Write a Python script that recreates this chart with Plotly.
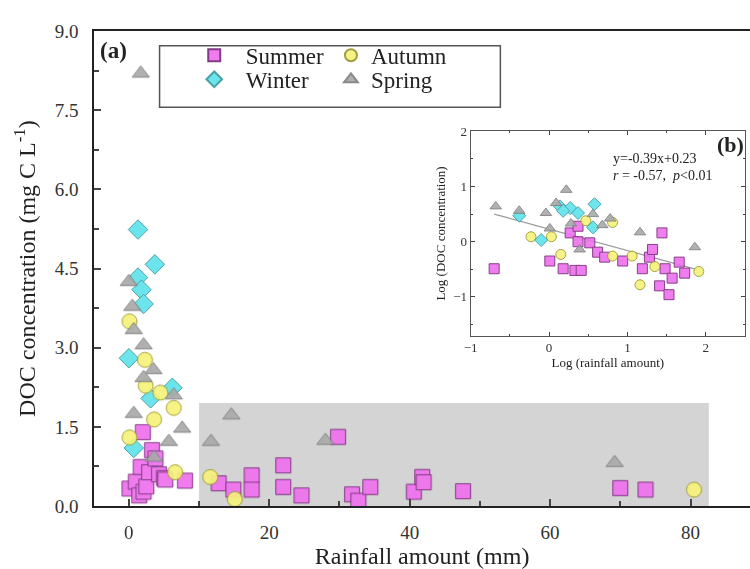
import plotly.graph_objects as go

# ---------------- main panel (a) data ----------------
summer_x = [0.1, 1.0, 1.5, 1.7, 2.0, 2.1, 2.5, 2.9, 3.3, 3.8, 4.3, 5.0, 5.2, 8.0,
            12.8, 14.9, 17.5, 17.5, 22.0, 22.0, 24.6, 29.8, 31.8, 32.7, 34.4,
            40.6, 41.8, 42.0, 47.6, 70.0, 73.6]
summer_y = [0.33, 0.46, 0.20, 0.74, 1.40, 0.27, 0.37, 0.64, 1.06, 0.90, 0.60, 0.53, 0.50, 0.48,
            0.43, 0.31, 0.58, 0.31, 0.77, 0.36, 0.20, 1.31, 0.22, 0.10, 0.36,
            0.27, 0.55, 0.45, 0.28, 0.34, 0.31]

autumn_x = [0.1, 2.3, 2.4, 4.5, 6.4, 3.6, 0.1, 6.6, 11.6, 15.1, 80.5]
autumn_y = [3.50, 2.77, 2.28, 2.15, 1.86, 1.64, 1.30, 0.64, 0.55, 0.13, 0.31]

winter_x = [1.3, 3.7, 1.3, 1.8, 2.1, 0.0, 6.2, 3.1, 0.7]
winter_y = [5.24, 4.58, 4.33, 4.10, 3.83, 2.80, 2.24, 2.04, 1.10]

spring_x = [1.7, 0.0, 0.5, 0.7, 2.1, 3.5, 2.1, 6.4, 0.7, 7.6, 5.7, 3.6, 11.7, 14.6, 28.0, 69.2]
spring_y = [8.20, 4.25, 3.78, 3.34, 3.05, 2.58, 2.43, 2.10, 1.75, 1.47, 1.22, 0.92, 1.22, 1.72, 1.24, 0.82]

# ---------------- inset panel (b) data ----------------
b_summer_x = [-0.70, 0.27, 0.37, 0.52, 0.62, 0.71, 0.94, 0.01, 0.18, 0.33, 0.41, 1.28, 1.32,
              1.44, 1.19, 1.48, 1.57, 1.66, 1.73, 1.41, 1.53, 0.37]
b_summer_y = [-0.49, 0.16, 0.00, -0.02, -0.19, -0.28, -0.35, -0.35, -0.49, -0.52, -0.52, -0.28, -0.14,
              0.16, -0.49, -0.49, -0.66, -0.37, -0.57, -0.80, -0.96, 0.28]

b_autumn_x = [-0.23, 0.03, 0.15, 0.81, 1.06, 1.35, 1.91, 1.16, 0.47, 0.81]
b_autumn_y = [0.09, 0.09, -0.23, -0.26, -0.26, -0.45, -0.54, -0.78, 0.38, 0.35]

b_winter_x = [0.14, 0.27, 0.58, -0.10, -0.38, 0.56, 0.37, 0.18]
b_winter_y = [0.64, 0.61, 0.68, 0.03, 0.47, 0.26, 0.52, 0.56]

b_spring_x = [-0.68, -0.38, -0.04, 0.22, 0.01, 1.16, 1.86, 0.28, 0.56, 0.78, 0.39, 0.68, 0.09]
b_spring_y = [0.64, 0.56, 0.52, 0.94, 0.24, 0.17, -0.10, 0.33, 0.50, 0.42, -0.14, 0.30, 0.70]

fit_x = [-0.7, 1.9]
fit_y = [0.50, -0.51]

# ---------------- styles ----------------
FONT = "Liberation Serif"
styles = {
    "Summer": dict(symbol="square", color="#ee70ee", line="#7a2a7a"),
    "Autumn": dict(symbol="circle", color="#f6f27a", line="#9a9830"),
    "Winter": dict(symbol="diamond", color="#5fe3ea", line="#3a9aa0"),
    "Spring": dict(symbol="triangle-up", color="#a9a9a9", line="#7f7f7f"),
}

fig = go.Figure()

# shaded area in main panel
fig.add_shape(type="rect", xref="x", yref="y", x0=10, x1=82.6, y0=0, y1=1.95,
              fillcolor="#d4d4d4", line_width=0, layer="below")

NB = "\u00a0\u00a0"
main_series = [("Summer", NB + "Summer", summer_x, summer_y, "legend", 15),
               ("Winter", NB + "Winter", winter_x, winter_y, "legend2", 15),
               ("Autumn", "Autumn", autumn_x, autumn_y, "legend3", 15),
               ("Spring", "Spring", spring_x, spring_y, "legend4", 15)]
for key, label, xs, ys, leg, sz in main_series:
    s = styles[key]
    fig.add_trace(go.Scatter(
        x=xs, y=ys, mode="markers", name=label, legend=leg,
        marker=dict(symbol=s["symbol"], size=sz, color=s["color"],
                    line=dict(color=s["line"], width=1)),
        opacity=0.92, xaxis="x", yaxis="y"))

# inset
fig.add_trace(go.Scatter(x=fit_x, y=fit_y, mode="lines", showlegend=False,
                         line=dict(color="#9a9a9a", width=1.2), xaxis="x2", yaxis="y2"))
inset_series = [("Summer", b_summer_x, b_summer_y),
                ("Autumn", b_autumn_x, b_autumn_y),
                ("Winter", b_winter_x, b_winter_y),
                ("Spring", b_spring_x, b_spring_y)]
for name, xs, ys in inset_series:
    s = styles[name]
    fig.add_trace(go.Scatter(
        x=xs, y=ys, mode="markers", showlegend=False,
        marker=dict(symbol=s["symbol"], size=10, color=s["color"],
                    line=dict(color=s["line"], width=1)),
        opacity=0.9, xaxis="x2", yaxis="y2"))

# legend frame
fig.add_shape(type="rect", xref="paper", yref="paper",
              x0=154/750, x1=498/750, y0=1-101/569, y1=1-37/569,
              line=dict(color="#555555", width=1.5), fillcolor="rgba(0,0,0,0)")

def leg(xpx, ypx):
    return dict(x=xpx/750, y=1-ypx/569, xanchor="left", yanchor="middle",
                bgcolor="rgba(0,0,0,0)", borderwidth=0, itemsizing="constant",
                font=dict(family=FONT, size=23, color="#222222"))

tickfont = dict(family=FONT, size=19, color="#333333")
fig.update_layout(
    width=750, height=569,
    margin=dict(l=0, r=0, t=0, b=0),
    paper_bgcolor="white", plot_bgcolor="white",
    font=dict(family=FONT, color="#222222"),
    xaxis=dict(domain=[88/750, 1.0], range=[-4.94, 88.47],
               tickvals=[0, 20, 40, 60, 80], ticks="inside", ticklen=7, tickwidth=1.5,
               minor=dict(tickvals=[10, 30, 50, 70], ticks="inside", ticklen=5, tickwidth=1.5),
               showline=True, linecolor="#222222", linewidth=2, mirror=True,
               showgrid=False, zeroline=False, tickfont=tickfont, ticklabelstandoff=8,
               title=dict(text="Rainfall amount (mm)", font=dict(family=FONT, size=24, color="#222222"),
                          standoff=1),
               anchor="y"),
    yaxis=dict(domain=[1-515/569, 1-22/569], range=[0, 9],
               tickvals=[0, 1.5, 3, 4.5, 6, 7.5, 9],
               ticktext=["0.0", "1.5", "3.0", "4.5", "6.0", "7.5", "9.0"],
               ticks="inside", ticklen=7, tickwidth=1.5,
               minor=dict(tickvals=[0.75, 2.25, 3.75, 5.25, 6.75, 8.25], ticks="inside",
                          ticklen=5, tickwidth=1.5),
               showline=True, linecolor="#222222", linewidth=2, mirror=False,
               showgrid=False, zeroline=False, tickfont=tickfont, ticklabelstandoff=10,
               title=dict(text="DOC concentration (mg C L<sup>-1</sup>)",
                          font=dict(family=FONT, size=24, color="#222222"), standoff=12),
               anchor="x"),
    xaxis2=dict(domain=[468/750, 745/750], range=[-1, 2.5], anchor="y2",
                tickvals=[-1, 0, 1, 2], ticks="inside", ticklen=4,
                minor=dict(tickvals=[-0.5, 0.5, 1.5], ticks="inside", ticklen=2),
                showline=True, linecolor="#555555", linewidth=1, mirror="ticks",
                showgrid=False, zeroline=False,
                tickfont=dict(family=FONT, size=13, color="#333333"),
                title=dict(text="Log (rainfall amount)", font=dict(family=FONT, size=13, color="#222222"),
                           standoff=2)),
    yaxis2=dict(domain=[1-338/569, 1-126/569], range=[-1.7, 2], anchor="x2",
                tickvals=[-1, 0, 1, 2], ticks="inside", ticklen=4,
                minor=dict(tickvals=[-1.5, -0.5, 0.5, 1.5], ticks="inside", ticklen=2),
                showline=True, linecolor="#555555", linewidth=1, mirror="ticks",
                showgrid=False, zeroline=False,
                tickfont=dict(family=FONT, size=13, color="#333333"),
                title=dict(text="Log (DOC concentration)", font=dict(family=FONT, size=13, color="#222222"),
                           standoff=4)),
    legend=leg(189, 47),
    legend2=leg(189, 72),
    legend3=leg(327, 47),
    legend4=leg(327, 72),
    showlegend=True,
)

fig.add_annotation(text="<b>(a)</b>", xref="paper", yref="paper", x=92/750, y=1-42/569,
                   xanchor="left", yanchor="middle", showarrow=False,
                   font=dict(family=FONT, size=23, color="#222222"))
fig.add_annotation(text="<b>(b)</b>", xref="paper", yref="paper", x=746/750, y=1-140/569,
                   xanchor="right", yanchor="middle", showarrow=False,
                   font=dict(family=FONT, size=22, color="#222222"))
fig.add_annotation(text="y=-0.39x+0.23", xref="paper", yref="paper", x=610/750, y=1-154/569,
                   xanchor="left", yanchor="middle", showarrow=False,
                   font=dict(family=FONT, size=14, color="#222222"))
fig.add_annotation(text="<i>r</i> = -0.57,  <i>p</i>&lt;0.01", xref="paper", yref="paper",
                   x=610/750, y=1-172/569, xanchor="left", yanchor="middle", showarrow=False,
                   font=dict(family=FONT, size=14, color="#222222"))

fig.write_html("out.html")
